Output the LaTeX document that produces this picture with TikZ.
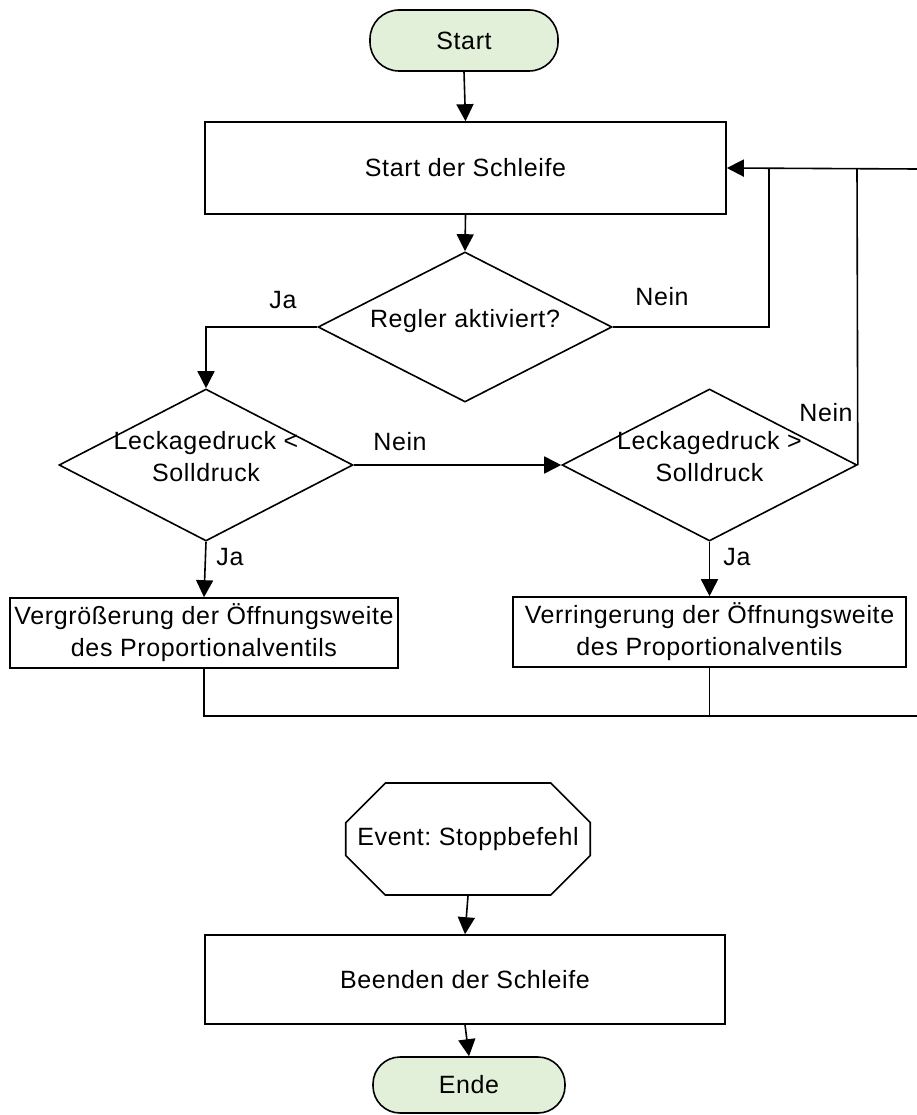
\documentclass[tikz,border=0pt]{standalone}
\usepackage{fontspec}
\setmainfont{Liberation Sans}[LetterSpace=2.5]
\usetikzlibrary{arrows.meta,shapes.geometric,shapes.misc}
\definecolor{termfill}{HTML}{E2F0D9}
\frenchspacing
\begin{document}
\begin{tikzpicture}[x=1pt,y=-1pt,
  every node/.style={font=\fontsize{25}{32}\selectfont, inner sep=0pt},
  line/.style={line width=1.6pt, draw=black},
  arr/.style={line, -{Triangle[length=17pt,width=17pt]}},
  terminal/.style={line, fill=termfill, rounded corners=29pt},
  procbox/.style={line, rectangle, align=center},
  decision/.style={line, diamond},
  eventbox/.style={line, chamfered rectangle, chamfered rectangle xsep=39pt, chamfered rectangle ysep=28pt},
  lbl/.style={}
]
\useasboundingbox (0,0) rectangle (917,1115);

% --- main loop ---
\node[terminal, minimum width=188pt, minimum height=61pt] (start) at (464,40.5) {Start};
\node[procbox, minimum width=521pt, minimum height=92pt] (loop) at (465.5,168) {Start der Schleife};
\node[decision, minimum width=294pt, minimum height=150pt] (reg) at (465,327)
  {\smash{\makebox[0pt]{Regler aktiviert?}}};
\node[decision, minimum width=294pt, minimum height=152pt] (lt) at (206,465)
  {\smash{\makebox[0pt]{\begin{tabular}{@{}c@{}}Leckagedruck <\\Solldruck\end{tabular}}}};
\node[decision, minimum width=295pt, minimum height=152pt] (gt) at (709.5,465)
  {\smash{\makebox[0pt]{\begin{tabular}{@{}c@{}}Leckagedruck >\\Solldruck\end{tabular}}}};
\node[procbox, minimum width=388pt, minimum height=70pt] (inc) at (204,633)
  {Vergrößerung der Öffnungsweite\\des Proportionalventils};
\node[procbox, minimum width=393pt, minimum height=70pt] (dec) at (709.5,632)
  {Verringerung der Öffnungsweite\\des Proportionalventils};

% --- stop event ---
\node[eventbox, minimum width=228pt, minimum height=112pt] (ev) at (468,839) {Event: Stoppbefehl};
\node[procbox, minimum width=520pt, minimum height=89pt] (stop) at (465,979.5) {Beenden der Schleife};
\node[terminal, minimum width=192pt, minimum height=56pt, rounded corners=27pt] (ende) at (469,1085) {Ende};

% --- junction points of the return path ---
\coordinate (jA) at (769,169);
\coordinate (jB) at (857,169);
\coordinate (jR) at (917,169);
\coordinate (jBot) at (917,716);

% --- connectors ---
\draw[arr] (start.south) -- (loop.north);
\draw[arr] (loop.south) -- (reg.north);
\draw[arr] (reg.west) -| (lt.north);
\draw[line] (reg.east) -| (jA);
\draw[arr] (lt.east) -- (gt.west);
\draw[line] (gt.east) -- (jB);
\draw[arr] (jR) -- (loop.east);
\draw[arr] (lt.south) -- (inc.north);
\draw[arr] (gt.south) -- (dec.north);
\draw[line] (inc.south) |- (jBot);
\draw[line] (dec.south) -- (dec.south |- jBot);
\draw[arr] (ev.south) -- (stop.north);
\draw[arr] (stop.south) -- (ende.north);

% --- branch labels ---
\node[lbl] (jaReg) at (283,300) {Ja};
\node[lbl] (neinReg) at (662,297) {Nein};
\node[lbl] (neinLt) at (400,442) {Nein};
\node[lbl] (neinGt) at (826,413) {Nein};
\node[lbl] (jaLt) at (230,557) {Ja};
\node[lbl] (jaGt) at (737,557) {Ja};
\end{tikzpicture}
\end{document}
